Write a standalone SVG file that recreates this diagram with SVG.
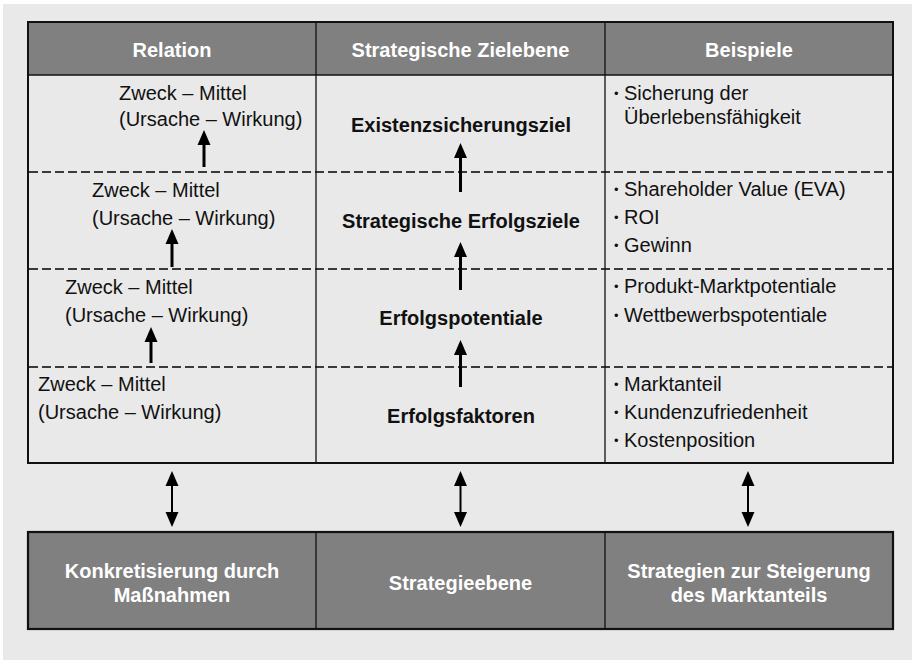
<svg xmlns="http://www.w3.org/2000/svg" width="916" height="660" viewBox="0 0 916 660">
  <style>
    .txt { font-family: "Liberation Sans", Arial, sans-serif; font-size: 20px; fill: #111; }
    .bold { font-weight: bold; }
    .bul { font-size: 13px; }
    .hdr { font-family: "Liberation Sans", Arial, sans-serif; font-size: 20px; font-weight: bold; fill: #ffffff; text-anchor: middle; }
    .mid { text-anchor: middle; }
    .dash { stroke: #000; stroke-width: 1.4; stroke-dasharray: 9 4; fill: none; }
    .vline { stroke: #111; stroke-width: 1.3; }
    .arrow { stroke: #000; stroke-width: 3; fill: none; marker-end: url(#head); }
    .darrow { stroke: #000; stroke-width: 2; fill: none; marker-start: url(#head2); marker-end: url(#head2); }
  </style>
  <defs>
    <marker id="head" markerUnits="userSpaceOnUse" markerWidth="16" markerHeight="14" refX="0" refY="7" orient="auto" overflow="visible">
      <path d="M0,0.5 L15,7 L0,13.5 Z" fill="#000"/>
    </marker>
    <marker id="head2" markerUnits="userSpaceOnUse" markerWidth="16" markerHeight="14" refX="0" refY="6.5" orient="auto-start-reverse" overflow="visible">
      <path d="M0,0 L15,6.5 L0,13 Z" fill="#000"/>
    </marker>
  </defs>

  <!-- background -->
  <rect x="0" y="0" width="916" height="660" fill="#ffffff"/>
  <rect x="3" y="4" width="909" height="656" fill="#e9e9e9"/>

  <!-- table -->
  <g id="table">
    <rect x="28" y="22" width="865" height="53" fill="#808080"/>
    <rect x="28" y="75" width="865" height="388" fill="#e9e9e9"/>
    <line x1="28" y1="75" x2="893" y2="75" stroke="#111" stroke-width="1.6"/>
    <line class="dash" x1="29" y1="172" x2="892" y2="172"/>
    <line class="dash" x1="29" y1="269" x2="892" y2="269"/>
    <line class="dash" x1="29" y1="367" x2="892" y2="367"/>
    <line class="vline" x1="316" y1="22" x2="316" y2="463"/>
    <line class="vline" x1="605" y1="22" x2="605" y2="463"/>
    <rect x="28" y="22" width="865" height="441" fill="none" stroke="#111" stroke-width="2"/>
  </g>

  <g id="header-relation"><text class="hdr" x="172" y="57">Relation</text></g>
  <g id="header-zielebene"><text class="hdr" x="460.5" y="57">Strategische Zielebene</text></g>
  <g id="header-beispiele"><text class="hdr" x="749" y="57">Beispiele</text></g>

  <!-- Relation column -->
  <g id="relation-1">
    <text class="txt" x="119" y="100">Zweck – Mittel</text>
    <text class="txt" x="119" y="126">(Ursache – Wirkung)</text>
  </g>
  <g id="relation-2">
    <text class="txt" x="92" y="197">Zweck – Mittel</text>
    <text class="txt" x="92" y="225">(Ursache – Wirkung)</text>
  </g>
  <g id="relation-3">
    <text class="txt" x="65" y="294">Zweck – Mittel</text>
    <text class="txt" x="65" y="322">(Ursache – Wirkung)</text>
  </g>
  <g id="relation-4">
    <text class="txt" x="38" y="391">Zweck – Mittel</text>
    <text class="txt" x="38" y="419">(Ursache – Wirkung)</text>
  </g>

  <!-- Zielebene column -->
  <g id="ziel-existenz"><text class="txt bold mid" x="461" y="132">Existenzsicherungsziel</text></g>
  <g id="ziel-erfolgsziele"><text class="txt bold mid" x="461" y="228">Strategische Erfolgsziele</text></g>
  <g id="ziel-potentiale"><text class="txt bold mid" x="461" y="325">Erfolgspotentiale</text></g>
  <g id="ziel-faktoren"><text class="txt bold mid" x="461" y="423">Erfolgsfaktoren</text></g>

  <!-- Beispiele column -->
  <g id="beispiel-1">
    <text class="txt" x="614" y="98"><tspan class="bul">•</tspan><tspan x="624" y="100">Sicherung der</tspan></text>
    <text class="txt" x="624" y="124">Überlebensfähigkeit</text>
  </g>
  <g id="beispiel-2">
    <text class="txt" x="614" y="194"><tspan class="bul">•</tspan><tspan x="624" y="196">Shareholder Value (EVA)</tspan></text>
    <text class="txt" x="614" y="222"><tspan class="bul">•</tspan><tspan x="624" y="224">ROI</tspan></text>
    <text class="txt" x="614" y="250"><tspan class="bul">•</tspan><tspan x="624" y="252">Gewinn</tspan></text>
  </g>
  <g id="beispiel-3">
    <text class="txt" x="614" y="291"><tspan class="bul">•</tspan><tspan x="624" y="293">Produkt-Marktpotentiale</tspan></text>
    <text class="txt" x="614" y="320"><tspan class="bul">•</tspan><tspan x="624" y="322">Wettbewerbspotentiale</tspan></text>
  </g>
  <g id="beispiel-4">
    <text class="txt" x="614" y="389"><tspan class="bul">•</tspan><tspan x="624" y="391">Marktanteil</tspan></text>
    <text class="txt" x="614" y="417"><tspan class="bul">•</tspan><tspan x="624" y="419">Kundenzufriedenheit</tspan></text>
    <text class="txt" x="614" y="445"><tspan class="bul">•</tspan><tspan x="624" y="447">Kostenposition</tspan></text>
  </g>

  <!-- bottom row -->
  <g id="bottom-row">
    <rect x="28" y="532" width="865" height="97" fill="#808080" stroke="#111" stroke-width="2.2"/>
    <line class="vline" x1="316" y1="532" x2="316" y2="629"/>
    <line class="vline" x1="605" y1="532" x2="605" y2="629"/>
  </g>
  <g id="bottom-massnahmen">
    <text class="hdr" x="172" y="578">Konkretisierung durch</text>
    <text class="hdr" x="172" y="602">Maßnahmen</text>
  </g>
  <g id="bottom-strategieebene">
    <text class="hdr" x="460.5" y="590">Strategieebene</text>
  </g>
  <g id="bottom-strategien">
    <text class="hdr" x="749" y="578">Strategien zur Steigerung</text>
    <text class="hdr" x="749" y="602">des Marktanteils</text>
  </g>

  <!-- connectors -->
  <g id="connectors">
    <line class="arrow" x1="204" y1="167" x2="204" y2="145"/>
    <line class="arrow" x1="172" y1="267" x2="172" y2="244"/>
    <line class="arrow" x1="151" y1="363" x2="151" y2="342"/>
    <line class="arrow" x1="460.5" y1="192" x2="460.5" y2="158"/>
    <line class="arrow" x1="460.5" y1="290" x2="460.5" y2="257"/>
    <line class="arrow" x1="460.5" y1="387" x2="460.5" y2="355"/>
    <line class="darrow" x1="172" y1="486" x2="172" y2="512"/>
    <line class="darrow" x1="460.5" y1="486" x2="460.5" y2="512"/>
    <line class="darrow" x1="748" y1="486" x2="748" y2="512"/>
  </g>
</svg>
